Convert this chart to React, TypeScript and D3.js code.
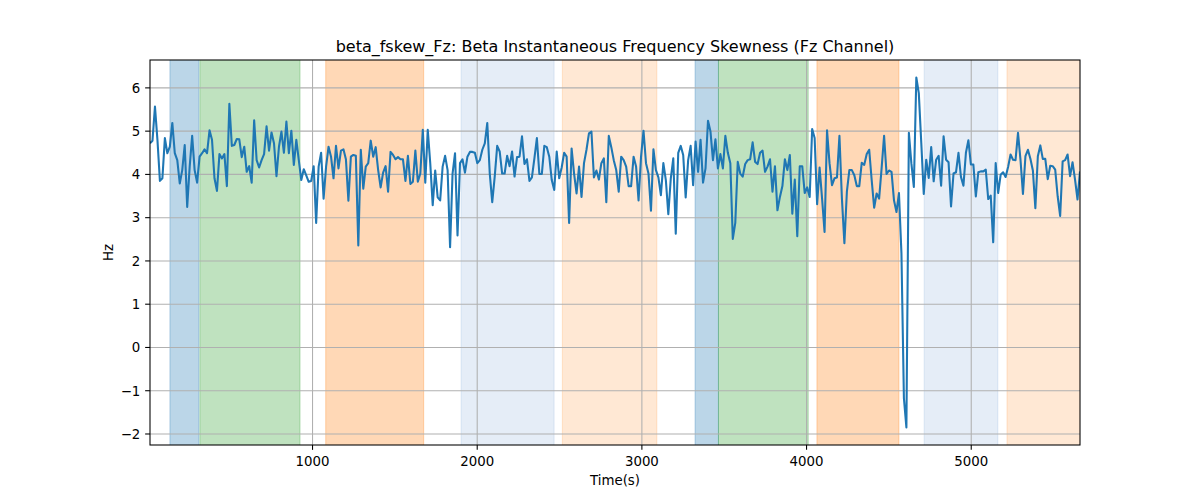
import { useEffect, useRef } from 'react';
import * as d3 from 'd3';

// sampling clock of the skewness series (seconds)
const T_START = 13;
const T_STEP = 15.06;

// beta instantaneous frequency skewness, Fz channel (Hz)
const skewValues: number[] = [
  4.72, 4.78, 5.57, 4.8, 3.85, 3.91, 4.84, 4.49, 4.64, 5.19,
  4.49, 4.33, 3.79, 4.1, 4.68, 3.25, 4.18, 4.89, 4.1, 3.81,
  4.41, 4.49, 4.58, 4.49, 5.02, 4.8, 3.91, 3.62, 4.47, 4.37,
  4.47, 3.73, 5.63, 4.66, 4.68, 4.82, 4.81, 4.4, 4.64, 4.06,
  4.19, 3.81, 5.25, 4.33, 4.16, 4.33, 4.47, 5.11, 4.55, 4.97,
  4.72, 3.96, 4.64, 4.99, 4.5, 5.22, 4.49, 5.01, 4.22, 4.8,
  4.33, 3.87,
  4.12, 3.98, 3.83, 3.85, 4.19, 2.88, 4.18, 4.5, 3.44, 4.18,
  4.64, 4.41, 3.91, 4.66, 4.14, 4.55, 4.58, 4.35, 3.39, 4.41,
  4.45, 4.43, 2.36, 4.57, 3.67, 4.18, 4.26, 4.78, 4.41, 4.63,
  4.1, 3.7, 4.04, 4.19, 3.6, 4.52, 4.45, 4.35, 4.4, 4.35,
  4.35, 3.85, 4.43, 3.78, 3.83, 4.55, 3.83, 4.02, 5.03, 3.81,
  5.03, 4.26, 3.29, 4.09, 3.47, 3.4, 4.18, 4.43, 4.1, 2.32,
  4.02, 4.49, 2.59,
  4.26, 4.35, 4.04, 4.41, 4.52, 4.52, 4.5, 4.26, 4.33, 4.57,
  4.72, 5.19, 4.02, 3.36, 3.95, 4.66, 4.53, 4.02, 4.02, 4.43,
  4.19, 4.53, 3.95, 4.4, 4.41, 4.88, 4.24, 4.35, 3.85, 3.93,
  4.37, 4.84, 4.01, 4.01, 4.66, 4.63, 4.41, 3.87, 3.64, 4.53,
  3.91, 4.16, 4.5, 4.41, 2.88, 4.6, 4.02, 3.56, 4.18, 3.48,
  4.26, 4.57, 4.95, 4.99, 3.93, 4.09, 3.88, 4.26, 4.37, 3.36,
  4.89, 4.63,
  4.33, 4.1, 3.6, 4.41, 4.33, 4.18, 3.73, 3.73, 4.41, 4.18,
  3.4, 4.41, 5.01, 4.26, 4.02, 3.16, 4.58, 4.1, 3.93, 3.52,
  4.26, 3.87, 3.08, 3.91, 4.37, 2.63, 4.5, 4.66, 4.45, 3.47,
  4.33, 4.66, 3.75, 4.76, 4.06, 4.8, 3.81, 4.14, 5.24, 4.99,
  4.33, 4.81, 4.14, 4.47, 4.14, 4.89, 4.5, 4.26, 2.51, 2.88,
  4.29, 4.02, 3.95, 4.24, 4.33, 4.35, 4.74, 4.29, 4.24, 4.5,
  4.55, 4.06, 4.18,
  4.35, 3.6, 4.19, 3.17, 3.48, 3.73, 4.35, 4.1, 4.45, 3.09,
  3.88, 2.57, 4.19, 4.19, 3.57, 3.7, 3.48, 5.05, 4.84, 3.31,
  4.16, 3.44, 2.67, 5.02, 4.26, 3.75, 3.91, 3.93, 4.89, 3.44,
  2.41, 3.6, 4.1, 4.1, 3.98, 3.73, 3.73, 4.27, 4.22, 4.47,
  4.57, 3.87, 3.23, 3.56, 3.44, 4.14, 4.89, 4.01, 4.09, 4.06,
  3.4, 3.13, 3.57,
  2.18, -1.18, -1.85, 4.96, 4.26, 3.71, 6.24, 5.88, 4.73, 3.55,
  4.34, 3.92, 4.63, 3.84, 4.34, 4.43, 3.74, 4.88, 4.34, 4.28,
  3.26, 4.02, 4.05, 4.5, 3.94, 3.74, 4.5, 4.79, 4.23, 4.23,
  3.49, 4.05, 4.07, 4.07, 4.11, 3.43, 3.51, 2.43, 4.26, 3.57,
  3.99, 4.05, 3.94, 4.17, 4.46, 4.34, 4.33, 4.96, 4.34, 3.55,
  4.42, 4.57, 4.36, 4.09, 3.22, 4.42, 4.67, 4.36, 4.36, 3.89,
  4.2, 4.19, 4.11, 3.49, 3.04, 4.3, 4.33, 4.46, 3.96, 4.28,
  3.88, 3.42, 4.07,
];

// shaded task / state periods (seconds)
const periodStarts = [134, 316, 1080, 1902, 2517, 3323, 3465, 4063, 4714, 5217];
const periodEnds = [310, 924, 1675, 2467, 3091, 3465, 4010, 4561, 5162, 5700];
const periodKinds = ['rest', 'task', 'recovery', 'baseline', 'other', 'rest', 'task', 'recovery', 'baseline', 'other'];

const kindColor: Record<string, string> = {
  rest: '#1f77b4',
  task: '#2ca02c',
  recovery: '#ff7f0e',
  baseline: '#2a6fbf',
  other: '#ff7f0e',
};
const kindAlpha: Record<string, number> = {
  rest: 0.3,
  task: 0.3,
  recovery: 0.3,
  baseline: 0.12,
  other: 0.18,
};

const xTicks = [1000, 2000, 3000, 4000, 5000];
const yTicks = [-2, -1, 0, 1, 2, 3, 4, 5, 6];

const TITLE = 'beta_fskew_Fz: Beta Instantaneous Frequency Skewness (Fz Channel)';

const FONT = '"DejaVu Sans", sans-serif';

export default function App() {
  const ref = useRef<SVGSVGElement>(null);
  const width = 1200;
  const height = 500;

  useEffect(() => {
    if (!ref.current) return;
    const svg = d3.select(ref.current);
    svg.selectAll('*').remove();

    const margin = { top: 60, right: 120, bottom: 55, left: 150 };
    const w = width - margin.left - margin.right;
    const h = height - margin.top - margin.bottom;

    const times = skewValues.map((_, i) => T_START + i * T_STEP);
    const points = skewValues.map((v, i) => [times[i], v] as [number, number]);

    const [ymin, ymax] = d3.extent(skewValues) as [number, number];
    const pad = (ymax - ymin) * 0.05;

    const x = d3.scaleLinear().domain([times[0], times[times.length - 1]]).range([0, w]);
    const y = d3.scaleLinear().domain([ymin - pad, ymax + pad]).range([h, 0]);

    svg
      .append('defs')
      .append('clipPath')
      .attr('id', 'plot-clip')
      .append('rect')
      .attr('width', w)
      .attr('height', h);

    const g = svg.append('g').attr('transform', `translate(${margin.left},${margin.top})`);
    const plot = g.append('g').attr('clip-path', 'url(#plot-clip)');

    // shaded periods
    plot
      .selectAll('rect.period')
      .data(periodStarts.map((s, i) => ({ s, e: periodEnds[i], k: periodKinds[i] })))
      .enter()
      .append('rect')
      .attr('class', 'period')
      .attr('x', (d) => x(d.s))
      .attr('y', -2)
      .attr('width', (d) => x(d.e) - x(d.s))
      .attr('height', h + 4)
      .attr('fill', (d) => kindColor[d.k])
      .attr('fill-opacity', (d) => kindAlpha[d.k])
      .attr('stroke', (d) => kindColor[d.k])
      .attr('stroke-opacity', (d) => kindAlpha[d.k])
      .attr('stroke-width', 1);

    // grid
    plot
      .selectAll('line.xgrid')
      .data(xTicks)
      .enter()
      .append('line')
      .attr('x1', (d) => x(d))
      .attr('x2', (d) => x(d))
      .attr('y1', 0)
      .attr('y2', h)
      .attr('stroke', '#b0b0b0')
      .attr('stroke-width', 1.07);
    plot
      .selectAll('line.ygrid')
      .data(yTicks)
      .enter()
      .append('line')
      .attr('x1', 0)
      .attr('x2', w)
      .attr('y1', (d) => y(d))
      .attr('y2', (d) => y(d))
      .attr('stroke', '#b0b0b0')
      .attr('stroke-width', 1.07);

    // series
    const line = d3
      .line<[number, number]>()
      .x((d) => x(d[0]))
      .y((d) => y(d[1]));
    plot
      .append('path')
      .datum(points)
      .attr('d', line)
      .attr('fill', 'none')
      .attr('stroke', '#1f77b4')
      .attr('stroke-width', 2.08)
      .attr('stroke-linejoin', 'round');

    // spines
    g.append('rect')
      .attr('width', w)
      .attr('height', h)
      .attr('fill', 'none')
      .attr('stroke', 'black')
      .attr('stroke-width', 1.07);

    // x ticks
    const xt = g
      .selectAll('g.xtick')
      .data(xTicks)
      .enter()
      .append('g')
      .attr('transform', (d) => `translate(${x(d)},${h})`);
    xt.append('line').attr('y2', 4.86).attr('stroke', 'black').attr('stroke-width', 1.07);
    xt.append('text')
      .attr('y', 20.5)
      .attr('text-anchor', 'middle')
      .attr('font-family', FONT)
      .attr('font-size', 13.33)
      .text((d) => String(d));

    // y ticks
    const yt = g
      .selectAll('g.ytick')
      .data(yTicks)
      .enter()
      .append('g')
      .attr('transform', (d) => `translate(0,${y(d)})`);
    yt.append('line').attr('x2', -4.86).attr('stroke', 'black').attr('stroke-width', 1.07);
    yt.append('text')
      .attr('x', -9.7)
      .attr('dy', '0.36em')
      .attr('text-anchor', 'end')
      .attr('font-family', FONT)
      .attr('font-size', 13.33)
      .text((d) => (d < 0 ? `\u2212${Math.abs(d)}` : String(d)));

    // labels
    g.append('text')
      .attr('x', w / 2)
      .attr('y', h + 40)
      .attr('text-anchor', 'middle')
      .attr('font-family', FONT)
      .attr('font-size', 13.33)
      .text('Time(s)');
    g.append('text')
      .attr('transform', `translate(${-37},${h / 2}) rotate(-90)`)
      .attr('text-anchor', 'middle')
      .attr('font-family', FONT)
      .attr('font-size', 13.33)
      .text('Hz');
    g.append('text')
      .attr('x', w / 2)
      .attr('y', -8)
      .attr('text-anchor', 'middle')
      .attr('font-family', FONT)
      .attr('font-size', 16)
      .text(TITLE);
  }, []);

  return (
    <svg
      ref={ref}
      width={width}
      height={height}
      style={{ position: 'absolute', left: 0, top: 0, background: 'white' }}
      role="img"
      aria-label="Beta instantaneous frequency skewness"
    />
  );
}
